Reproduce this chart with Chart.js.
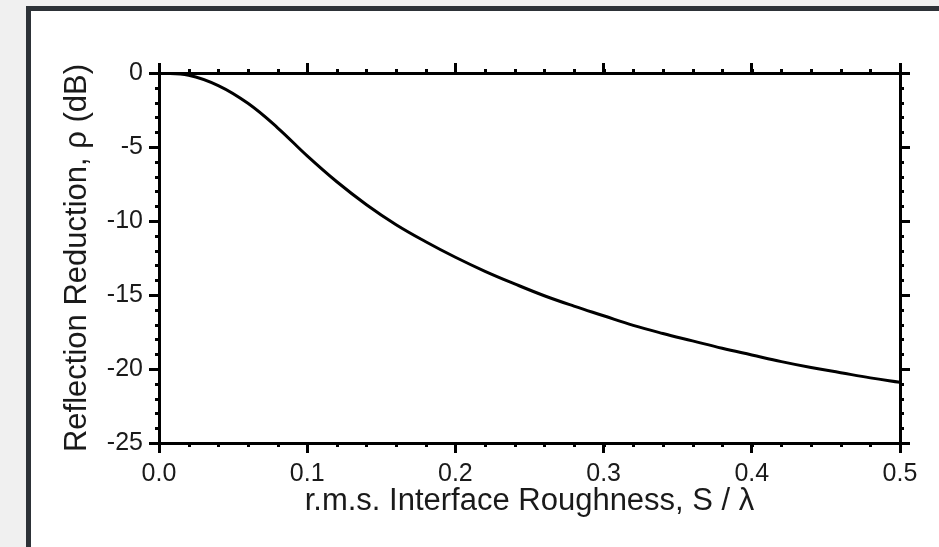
<!DOCTYPE html>
<html>
<head>
<meta charset="utf-8">
<script src="https://cdn.jsdelivr.net/npm/chart.js@4.4.1/dist/chart.umd.min.js"></script>
<style>
  html, body { margin: 0; padding: 0; background: #f0f0f0; overflow: hidden; }
  #frame {
    position: absolute; left: 26px; top: 6px; width: 1000px; height: 700px;
    background: #fff; border-left: 5px solid #2d3237; border-top: 5px solid #2d3237;
  }
  #chart { position: absolute; left: 0; top: 0; }
</style>
</head>
<body>
<div id="frame"></div>
<canvas id="chart" width="939" height="547"></canvas>
<script>
// roughness S/lambda and reflection reduction (dB)
var roughness = [0, 0.02, 0.04, 0.06, 0.08, 0.10, 0.12, 0.14, 0.16, 0.18, 0.20,
                 0.22, 0.24, 0.26, 0.28, 0.30, 0.32, 0.34, 0.36, 0.38, 0.40,
                 0.42, 0.44, 0.46, 0.48, 0.50];
var reduction = [0, -0.15, -0.85, -2.05, -3.7, -5.6, -7.35, -8.9, -10.25, -11.4, -12.45,
                 -13.4, -14.25, -15.05, -15.75, -16.4, -17.05, -17.6, -18.1, -18.6, -19.05,
                 -19.5, -19.9, -20.25, -20.6, -20.9];

var xRange = [0, 0.5], xMajor = 0.1, xMinor = 0.02;
var yRange = [-25, 0], yMajor = 5, yMinor = 1;

var font = "'Liberation Sans', Arial, Helvetica, sans-serif";

function elem(sel) { return document.querySelector(sel); }

// minor tick marks on all four sides, placed through the scales
var minorTicks = {
    id: 'minorTicks',
    afterDraw: function(chart) {
        var ctx = chart.ctx, a = chart.chartArea, sx = chart.scales.x, sy = chart.scales.y;
        var len = 4;
        ctx.save();
        ctx.strokeStyle = '#000';
        ctx.lineWidth = 3;
        ctx.beginPath();
        var n = Math.round((xRange[1] - xRange[0]) / xMinor);
        for (var i = 0; i <= n; i++) {
            var px = Math.round(sx.getPixelForValue(xRange[0] + i * xMinor)) + 0.5;
            ctx.moveTo(px, a.bottom); ctx.lineTo(px, a.bottom + len);
            ctx.moveTo(px, a.top); ctx.lineTo(px, a.top - len);
        }
        var m = Math.round((yRange[1] - yRange[0]) / yMinor);
        for (var j = 0; j <= m; j++) {
            var py = Math.round(sy.getPixelForValue(yRange[0] + j * yMinor)) + 0.5;
            ctx.moveTo(a.left, py); ctx.lineTo(a.left - len, py);
            ctx.moveTo(a.right, py); ctx.lineTo(a.right + len, py);
        }
        ctx.stroke();
        ctx.restore();
    }
};

var axisGrid = {
    drawOnChartArea: false,
    drawTicks: true,
    tickLength: 10,
    tickWidth: 3,
    tickColor: '#000'
};
var axisBorder = { display: true, color: '#000', width: 3 };

var roughChart = new Chart(elem('#chart'), {
    type: 'scatter',
    data: {
        datasets: [{
            data: roughness.map(function(x, i) { return {x: x, y: reduction[i]}; }),
            showLine: true,
            borderColor: '#000',
            borderWidth: 3,
            pointRadius: 0,
            tension: 0.4,
            fill: false
        }]
    },
    options: {
        responsive: false,
        animation: false,
        layout: { padding: 0 },
        plugins: { legend: { display: false }, tooltip: { enabled: false } },
        scales: {
            x: {
                type: 'linear', position: 'bottom',
                min: xRange[0], max: xRange[1],
                ticks: {
                    stepSize: xMajor, padding: 6, color: '#1a1a1a',
                    font: { family: font, size: 25 },
                    callback: function(v) { return v.toFixed(1); }
                },
                grid: axisGrid, border: axisBorder,
                title: {
                    display: true,
                    text: 'r.m.s. Interface Roughness, S / \u03bb',
                    color: '#1a1a1a',
                    font: { family: font, size: 31 },
                    padding: { top: 0, bottom: 27 }
                },
                afterFit: function(s) { s.height = 104; }
            },
            x2: {
                type: 'linear', position: 'top',
                min: xRange[0], max: xRange[1],
                ticks: { stepSize: xMajor, display: false },
                grid: axisGrid, border: axisBorder,
                afterFit: function(s) { s.height = 73; }
            },
            y: {
                type: 'linear', position: 'left',
                min: yRange[0], max: yRange[1],
                ticks: {
                    stepSize: yMajor, padding: 6, color: '#1a1a1a',
                    font: { family: font, size: 25 }
                },
                grid: axisGrid, border: axisBorder,
                title: {
                    display: true,
                    text: 'Reflection Reduction, \u03c1 (dB)',
                    color: '#1a1a1a',
                    font: { family: font, size: 31 },
                    padding: { top: 59, bottom: 0 }
                },
                afterFit: function(s) { s.width = 159; }
            },
            y2: {
                type: 'linear', position: 'right',
                min: yRange[0], max: yRange[1],
                ticks: { stepSize: yMajor, display: false },
                grid: axisGrid, border: axisBorder,
                afterFit: function(s) { s.width = 39; }
            }
        }
    },
    plugins: [minorTicks]
});
</script>
</body>
</html>
